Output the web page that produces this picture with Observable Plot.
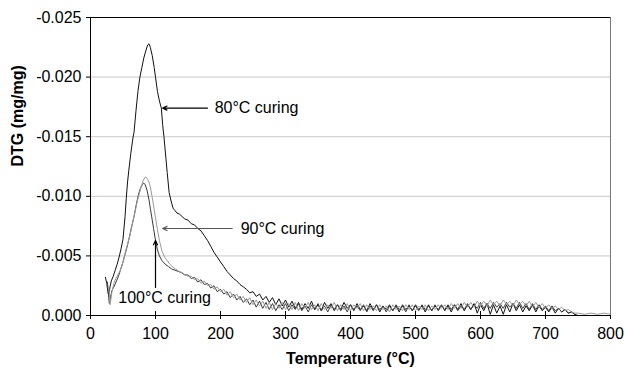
<!DOCTYPE html>
<html>
<head>
<meta charset="utf-8">
<script src="https://cdn.jsdelivr.net/npm/d3@7"></script>
<script src="https://cdn.jsdelivr.net/npm/@observablehq/plot@0.6"></script>
<style>
  html, body { margin: 0; padding: 0; background: #fff; }
</style>
</head>
<body>
<div id="chart"></div>
<script>
// ---- Data ----
const xTicks = [0, 100, 200, 300, 400, 500, 600, 700, 800];
const yTicks = [0, -0.005, -0.010, -0.015, -0.020, -0.025];
const yGrid = [-0.005, -0.010, -0.015, -0.020];

const seriesNames = ["80°C curing", "90°C curing", "100°C curing"];

const t80 = [23,25,27,28,30,32,35,38,41,44,47,50,53,55,57,59,62,65,67,70,73,76,79,82,85,88,90,92,95,98,100,103,106,109,111,113,116,118,121,124,127,130,133,137,141,145,150,155,160,165,170,175,180,185,190,195,200,205,210,215,220,225,230,235,240,245,250,255,260,265,270,275,280,285,290,295,300,305,310,315,
320,325,330,335,340,345,350,355,360,365,370,375,380,385,390,395,400,405,410,415,420,425,430,435,440,445,450,455,460,465,470,475,480,485,490,495,500,505,510,515,520,525,530,535,540,545,550,555,560,565,570,575,580,585,590,595,600,605,610,615,620,625,630,635,640,645,650,655,660,665,670,675,680,685,690,695,700,705,710,715,720,725,730,735,740,745,750];
const d80 = [-0.0032,-0.0027,-0.0019,-0.0017,-0.0024,-0.0029,-0.0033,-0.0038,-0.0043,-0.0049,-0.0056,-0.0064,-0.0082,-0.0098,-0.0112,-0.0122,-0.0136,-0.0148,-0.0154,-0.0172,-0.0188,-0.0200,-0.0208,-0.0216,-0.0222,-0.0227,-0.0228,-0.0225,-0.0218,-0.0208,-0.0200,-0.0188,-0.0180,-0.0174,-0.0160,-0.0150,-0.0132,-0.0120,-0.0103,-0.0096,-0.0090,-0.0088,-0.0086,-0.0085,-0.0083,-0.0081,-0.0080,-0.0077,-0.0076,-0.0073,-0.0071,-0.0067,-0.0063,-0.0058,-0.0053,-0.0049,-0.0045,-0.0041,-0.0037,-0.0034,-0.0031,-0.0029,-0.0026,-0.0024,-0.0022,-0.0019,-0.0020,-0.0016,-0.0018,-0.0013,-0.0016,-0.0011,-0.0015,-0.0009,-0.0014,-0.0008,-0.0013,-0.0007,-0.0012,-0.0006,
-0.0011,-0.0005,-0.0010,-0.0006,-0.0012,-0.0005,-0.0009,-0.0004,-0.0011,-0.0006,-0.0010,-0.0004,-0.0009,-0.0005,-0.0011,-0.0006,-0.0009,-0.0004,-0.0010,-0.0005,-0.0008,-0.0004,-0.0010,-0.0005,-0.0009,-0.0003,-0.0008,-0.0005,-0.0009,-0.0004,-0.0008,-0.0003,-0.0009,-0.0005,-0.0008,-0.0004,-0.0009,-0.0005,-0.0008,-0.0003,-0.0009,-0.0004,-0.0008,-0.0005,-0.0009,-0.0004,-0.0008,-0.0003,-0.0009,-0.0005,-0.0010,-0.0004,-0.0009,-0.0005,-0.0010,-0.0002,-0.0009,-0.0004,-0.0010,-0.0001,-0.0009,-0.0002,-0.0008,-0.0001,-0.0009,-0.0003,-0.0010,-0.0004,-0.0009,-0.0003,-0.0008,-0.0004,-0.0009,-0.0003,-0.0008,-0.0004,-0.0007,-0.0003,-0.0007,-0.0002,-0.0006,-0.0003,-0.0005,-0.0002,-0.0003,-0.0001,0];

const t90 = [28,29,30,31,33,36,39,42,45,48,51,54,57,60,63,66,69,72,75,78,81,84,86,88,90,92,95,98,100,103,106,110,114,118,122,126,131,136,141,146,150,155,160,165,170,175,180,185,190,195,200,205,210,215,220,225,230,235,240,245,250,255,260,265,270,275,280,285,290,295,300,
305,310,315,320,325,330,335,340,345,350,355,360,365,370,375,380,385,390,395,400,405,410,415,420,425,430,435,440,445,450,455,460,465,470,475,480,485,490,495,500,505,510,515,520,525,530,535,540,545,550,555,560,565,570,575,580,585,590,595,600,605,610,615,620,625,630,635,640,645,650,655,660,665,670,675,680,685,690,695,700,705,710,715,720,725,730,735,740,745,750,760,770,780,790,800];
const d90 = [-0.0024,-0.0018,-0.0009,-0.0012,-0.0020,-0.0027,-0.0031,-0.0034,-0.0037,-0.0041,-0.0047,-0.0054,-0.0060,-0.0066,-0.0073,-0.0081,-0.0088,-0.0096,-0.0102,-0.0108,-0.0113,-0.0116,-0.0116,-0.0114,-0.0112,-0.0108,-0.0099,-0.0089,-0.0082,-0.0072,-0.0063,-0.0054,-0.0049,-0.0046,-0.0043,-0.0041,-0.0039,-0.0037,-0.0036,-0.0034,-0.0033,-0.0033,-0.0030,-0.0031,-0.0027,-0.0029,-0.0025,-0.0026,-0.0022,-0.0024,-0.0020,-0.0022,-0.0017,-0.0020,-0.0015,-0.0018,-0.0013,-0.0016,-0.0011,-0.0015,-0.0009,-0.0013,-0.0008,-0.0012,-0.0006,-0.0011,-0.0005,-0.0010,-0.0006,-0.0011,-0.0005,
-0.0010,-0.0005,-0.0011,-0.0004,-0.0010,-0.0006,-0.0011,-0.0005,-0.0009,-0.0004,-0.0010,-0.0005,-0.0009,-0.0006,-0.0011,-0.0004,-0.0009,-0.0005,-0.0010,-0.0004,-0.0009,-0.0006,-0.0010,-0.0004,-0.0009,-0.0005,-0.0008,-0.0004,-0.0009,-0.0005,-0.0008,-0.0003,-0.0009,-0.0005,-0.0008,-0.0004,-0.0009,-0.0005,-0.0009,-0.0004,-0.0008,-0.0005,-0.0009,-0.0004,-0.0008,-0.0005,-0.0009,-0.0006,-0.0009,-0.0005,-0.0010,-0.0006,-0.0010,-0.0006,-0.0011,-0.0007,-0.0011,-0.0007,-0.0012,-0.0008,-0.0012,-0.0008,-0.0013,-0.0009,-0.0012,-0.0008,-0.0013,-0.0009,-0.0012,-0.0008,-0.0013,-0.0009,-0.0012,-0.0008,-0.0012,-0.0007,-0.0011,-0.0007,-0.0010,-0.0006,-0.0009,-0.0006,-0.0008,-0.0005,-0.0007,-0.0004,-0.0005,-0.0003,-0.0002,-0.0002,-0.0001,-0.0002,-0.0001,-0.0002,-0.0001];

const t100 = [26,27,28,29,31,33,36,40,43,46,50,53,56,60,63,67,70,74,77,80,82,84,87,90,92,95,97,100,103,106,110,115,120,125,130,135,140,145,150,155,160,165,170,175,180,185,190,195,200,205,210,215,220,225,230,235,240,245,250,255,260,265,270,275,280,285,290,295,300,
305,310,315,320,325,330,335,340,345,350,355,360,365,370,375,380,385,390,395,400,405,410,415,420,425,430,435,440,445,450,455,460,465,470,475,480,485,490,495,500,505,510,515,520,525,530,535,540,545,550,555,560,565,570,575,580,585,590,595,600,605,610,615,620,625,630,635,640,645,650,655,660,665,670,675,680,685,690,695,700,705,710,715,720,725,730,735,740,745];
const d100 = [-0.0028,-0.0022,-0.0015,-0.0010,-0.0016,-0.0021,-0.0024,-0.0029,-0.0033,-0.0038,-0.0045,-0.0051,-0.0057,-0.0066,-0.0074,-0.0083,-0.0092,-0.0102,-0.0107,-0.0110,-0.0111,-0.0110,-0.0105,-0.0097,-0.0090,-0.0080,-0.0073,-0.0063,-0.0055,-0.0050,-0.0046,-0.0043,-0.0041,-0.0039,-0.0038,-0.0037,-0.0036,-0.0034,-0.0034,-0.0031,-0.0032,-0.0028,-0.0030,-0.0026,-0.0027,-0.0023,-0.0025,-0.0020,-0.0022,-0.0018,-0.0020,-0.0015,-0.0018,-0.0013,-0.0016,-0.0011,-0.0014,-0.0009,-0.0013,-0.0007,-0.0012,-0.0006,-0.0011,-0.0005,-0.0010,-0.0004,-0.0009,-0.0005,-0.0010,
-0.0004,-0.0009,-0.0005,-0.0010,-0.0004,-0.0008,-0.0003,-0.0009,-0.0005,-0.0010,-0.0004,-0.0008,-0.0003,-0.0009,-0.0005,-0.0009,-0.0004,-0.0008,-0.0003,-0.0009,-0.0005,-0.0008,-0.0004,-0.0009,-0.0003,-0.0008,-0.0004,-0.0009,-0.0005,-0.0008,-0.0003,-0.0008,-0.0004,-0.0009,-0.0005,-0.0008,-0.0003,-0.0009,-0.0004,-0.0008,-0.0004,-0.0009,-0.0005,-0.0008,-0.0004,-0.0009,-0.0004,-0.0008,-0.0005,-0.0009,-0.0005,-0.0009,-0.0004,-0.0008,-0.0005,-0.0010,-0.0005,-0.0009,-0.0006,-0.0011,-0.0006,-0.0010,-0.0006,-0.0011,-0.0007,-0.0010,-0.0006,-0.0011,-0.0007,-0.0010,-0.0006,-0.0011,-0.0006,-0.0010,-0.0005,-0.0010,-0.0005,-0.0009,-0.0005,-0.0008,-0.0004,-0.0008,-0.0004,-0.0006,-0.0003,-0.0005,-0.0002,-0.0003,-0.0001];

// Annotations (data coordinates)
const annTextX = [191, 231, 114];
const annTextY = [-0.0174, -0.0073, -0.0015];
const arrowX1 = [180, 218, 100];
const arrowY1 = [-0.0174, -0.0073, -0.00235];
const arrowX2 = [111, 111, 100];
const arrowY2 = [-0.0174, -0.0073, -0.0063];
const arrowColors = ["#000", "#555", "#000"];

// ---- Build tables ----
const rows = (ts, ds) => ts.map((t, i) => ({t, v: ds[i]}));
const s80 = rows(t80, d80);
const s90 = rows(t90, d90);
const s100 = rows(t100, d100);
const anns = seriesNames.map((name, i) => ({
  name, tx: annTextX[i], ty: annTextY[i],
  x1: arrowX1[i], y1: arrowY1[i], x2: arrowX2[i], y2: arrowY2[i], c: arrowColors[i]
}));

const chart = Plot.plot({
  width: 625,
  height: 372,
  marginLeft: 90,
  marginRight: 15,
  marginTop: 17,
  marginBottom: 57,
  style: {fontFamily: "'Liberation Sans', Arial, sans-serif", fontSize: "16px", background: "#fff", color: "#000"},
  x: {domain: [0, 800]},
  y: {domain: [0, -0.025]},
  marks: [
    Plot.gridY(yGrid, {stroke: "#d4d4d4", strokeOpacity: 1, strokeWidth: 1.2}),
    Plot.axisY(yTicks, {tickSize: 4, tickPadding: 5, tickFormat: d => d.toFixed(3), label: null, stroke: "#000", fontSize: 16}),
    Plot.axisX(xTicks, {tickSize: 4, tickPadding: 8, tickFormat: d => String(d), label: null, stroke: "#000", fontSize: 16}),
    Plot.axisX(xTicks, {tickSize: 4, dy: -4, tickFormat: () => "", label: null, stroke: "#000"}),
    Plot.ruleY([-0.025], {stroke: "#000"}),
    Plot.ruleX([800], {stroke: "#777"}),
    Plot.line(s80, {x: "t", y: "v", stroke: "#111", strokeWidth: 1}),
    Plot.line(s100, {x: "t", y: "v", stroke: "#3a3a3a", strokeWidth: 1}),
    Plot.line(s90, {x: "t", y: "v", stroke: "#9a9a9a", strokeWidth: 1}),
    Plot.ruleX([0], {stroke: "#000"}),
    Plot.ruleY([0], {stroke: "#000"}),
    Plot.arrow(anns, {x1: "x1", y1: "y1", x2: "x2", y2: "y2",
      stroke: "c", strokeWidth: 1.2, headLength: 6, headAngle: 50}),
    Plot.text(anns.slice(0, 2), {x: "tx", y: "ty", text: "name",
      textAnchor: "start", fill: "#000", fontSize: 16}),
    Plot.text(anns.slice(2), {x: "tx", y: "ty", text: "name",
      textAnchor: "middle", fill: "#000", fontSize: 16}),
    Plot.text(["DTG (mg/mg)"], {frameAnchor: "left", rotate: -90, dx: -73, fontWeight: "bold", fontSize: 16}),
    Plot.text(["Temperature (°C)"], {frameAnchor: "bottom", dy: 48, fontWeight: "bold", fontSize: 16})
  ]
});
document.getElementById("chart").appendChild(chart);
</script>
</body>
</html>
